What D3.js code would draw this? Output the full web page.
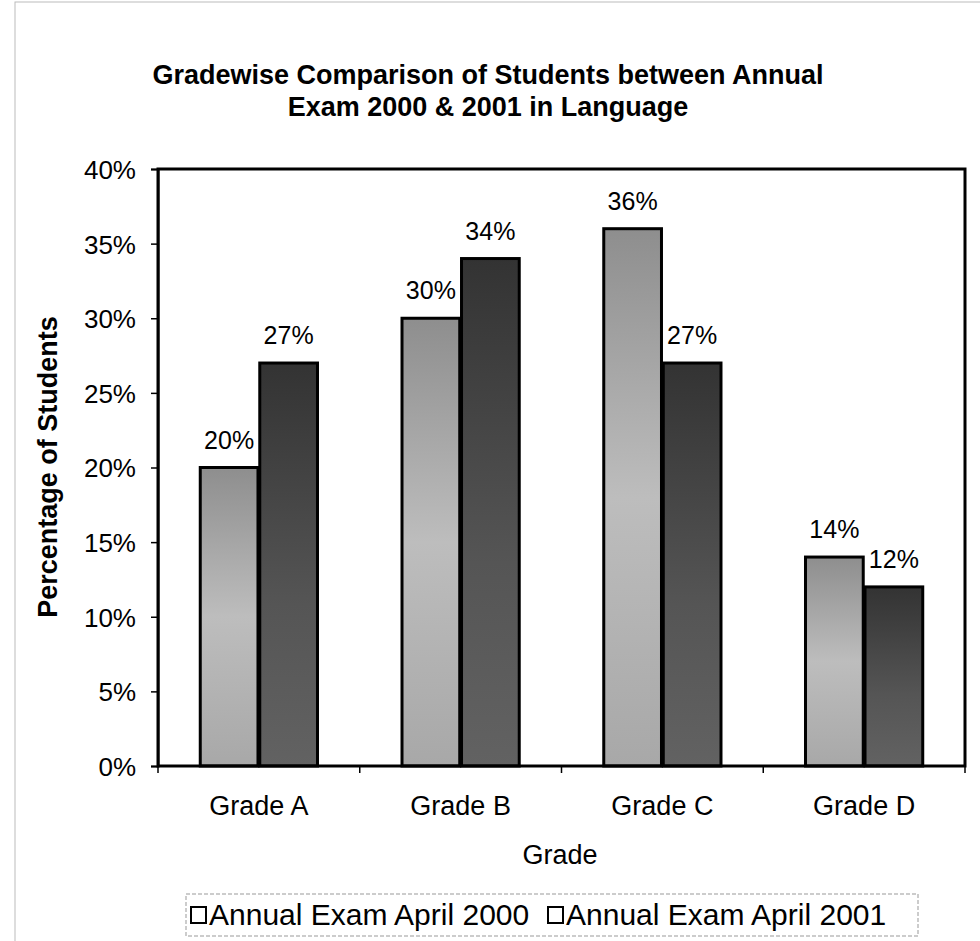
<!DOCTYPE html>
<html>
<head>
<meta charset="utf-8">
<script src="https://cdn.jsdelivr.net/npm/d3@7"></script>
<style>
  body { margin: 0; background: #fff; }
  text { font-family: "Liberation Sans", Arial, sans-serif; fill: #000; }
</style>
</head>
<body>
<div id="chart"></div>
<script>
// chart data
var grades = ["Grade A", "Grade B", "Grade C", "Grade D"];
var seriesNames = ["Annual Exam April 2000", "Annual Exam April 2001"];
var exam2000 = [20, 30, 36, 14];
var exam2001 = [27, 34, 27, 12];
var yTicks = [0, 5, 10, 15, 20, 25, 30, 35, 40];

var svgWidth = 980;
var svgHeight = 941;

var margin = { top: 169, right: 15, bottom: 175, left: 158 };
var width = 965 - margin.left;
var height = 766 - margin.top;

var svg = d3.select("#chart")
  .append("svg")
  .attr("width", svgWidth)
  .attr("height", svgHeight);

// faint outer frame like the scanned page
svg.append("rect")
  .attr("x", 15).attr("y", 2)
  .attr("width", 990).attr("height", 960)
  .attr("fill", "none")
  .attr("stroke", "#bbb")
  .attr("stroke-width", 1);

// grey fills standing in for the scanned stipple
var defs = svg.append("defs");
var g1 = defs.append("linearGradient").attr("id", "fill2000")
  .attr("x1", 0).attr("y1", 0).attr("x2", 0).attr("y2", 1);
g1.append("stop").attr("offset", "0%").attr("stop-color", "#8e8e8e");
g1.append("stop").attr("offset", "50%").attr("stop-color", "#bdbdbd");
g1.append("stop").attr("offset", "100%").attr("stop-color", "#a8a8a8");
var g2 = defs.append("linearGradient").attr("id", "fill2001")
  .attr("x1", 0).attr("y1", 0).attr("x2", 0).attr("y2", 1);
g2.append("stop").attr("offset", "0%").attr("stop-color", "#333");
g2.append("stop").attr("offset", "60%").attr("stop-color", "#555");
g2.append("stop").attr("offset", "100%").attr("stop-color", "#626262");

var chartGroup = svg.append("g")
  .attr("transform", `translate(${margin.left}, ${margin.top})`);

// Title
svg.append("text")
  .attr("x", 488).attr("y", 84)
  .attr("text-anchor", "middle")
  .style("font-size", "27px").style("font-weight", "bold")
  .text("Gradewise Comparison of Students between Annual");
svg.append("text")
  .attr("x", 488).attr("y", 116)
  .attr("text-anchor", "middle")
  .style("font-size", "27px").style("font-weight", "bold")
  .text("Exam 2000 & 2001 in Language");

// Scales
var x0 = d3.scaleBand()
  .domain(grades)
  .range([0, width])
  .paddingInner(0)
  .paddingOuter(0);

var x1 = d3.scaleBand()
  .domain([0, 1])
  .range([0, x0.bandwidth()])
  .paddingInner(0.03)
  .paddingOuter(0.71);

var y = d3.scaleLinear()
  .domain([0, 40])
  .range([height, 0]);

// Axes
var leftAxis = d3.axisLeft(y)
  .tickValues(yTicks)
  .tickSize(7)
  .tickPadding(15)
  .tickFormat(d => d + "%");

var yAxisG = chartGroup.append("g").call(leftAxis);
yAxisG.select(".domain").attr("stroke-width", 2);
yAxisG.selectAll("line").attr("stroke-width", 1.5);
yAxisG.selectAll("text")
  .style("font-size", "26px")
  .style("font-family", "Liberation Sans, Arial, sans-serif")
  .attr("dy", "0.36em");

var bottomAxis = d3.axisBottom(x0)
  .tickSize(0)
  .tickPadding(30);

var xAxisG = chartGroup.append("g")
  .attr("transform", `translate(0, ${height})`)
  .call(bottomAxis);
xAxisG.select(".domain").remove();
xAxisG.selectAll("text")
  .style("font-size", "27px")
  .style("font-family", "Liberation Sans, Arial, sans-serif");

// category boundary ticks
chartGroup.selectAll("line.cat-tick")
  .data(d3.range(grades.length + 1))
  .enter()
  .append("line")
  .attr("class", "cat-tick")
  .attr("x1", d => d * x0.step())
  .attr("x2", d => d * x0.step())
  .attr("y1", height)
  .attr("y2", height + 7)
  .attr("stroke", "#000")
  .attr("stroke-width", 1.5);

// Bars (labels drawn per series so the 2001 bar can cover the 2000 label, as in the scan)
var rows = grades.map(function(g, i) {
  return { grade: g, values: [exam2000[i], exam2001[i]] };
});

var groups = chartGroup.selectAll("g.grade")
  .data(rows)
  .enter()
  .append("g")
  .attr("class", "grade")
  .attr("transform", d => `translate(${x0(d.grade)}, 0)`);

[0, 1].forEach(function(k) {
  groups.append("text")
    .attr("x", x1(k) + x1.bandwidth() / 2)
    .attr("y", d => y(d.values[k]) - 19)
    .attr("text-anchor", "middle")
    .style("font-size", "25px")
    .text(d => d.values[k] + "%");

  groups.append("rect")
    .attr("x", x1(k))
    .attr("y", d => y(d.values[k]))
    .attr("width", x1.bandwidth())
    .attr("height", d => height - y(d.values[k]))
    .attr("fill", k === 0 ? "url(#fill2000)" : "url(#fill2001)")
    .attr("stroke", "#000")
    .attr("stroke-width", 3);
});

// plot frame
chartGroup.append("rect")
  .attr("x", 0).attr("y", 0)
  .attr("width", width).attr("height", height)
  .attr("fill", "none")
  .attr("stroke", "#000")
  .attr("stroke-width", 3);

// Axis titles
svg.append("text")
  .attr("transform", "rotate(-90)")
  .attr("x", -467)
  .attr("y", 57)
  .attr("text-anchor", "middle")
  .style("font-size", "27px").style("font-weight", "bold")
  .text("Percentage of Students");

svg.append("text")
  .attr("x", 560)
  .attr("y", 864)
  .attr("text-anchor", "middle")
  .style("font-size", "27px")
  .text("Grade");

// Legend
var legend = svg.append("g").attr("transform", "translate(186, 894)");
legend.append("rect")
  .attr("x", 0).attr("y", 0)
  .attr("width", 732).attr("height", 42)
  .attr("fill", "#fff")
  .attr("stroke", "#999")
  .attr("stroke-width", 1)
  .attr("stroke-dasharray", "4,2");

var legendX = [5, 362];
seriesNames.forEach(function(name, i) {
  legend.append("rect")
    .attr("x", legendX[i]).attr("y", 13)
    .attr("width", 15).attr("height", 16)
    .attr("fill", "#fff")
    .attr("stroke", "#000")
    .attr("stroke-width", 2);
  legend.append("text")
    .attr("x", legendX[i] + 18)
    .attr("y", 31)
    .style("font-size", "30px")
    .text(name);
});
</script>
</body>
</html>
